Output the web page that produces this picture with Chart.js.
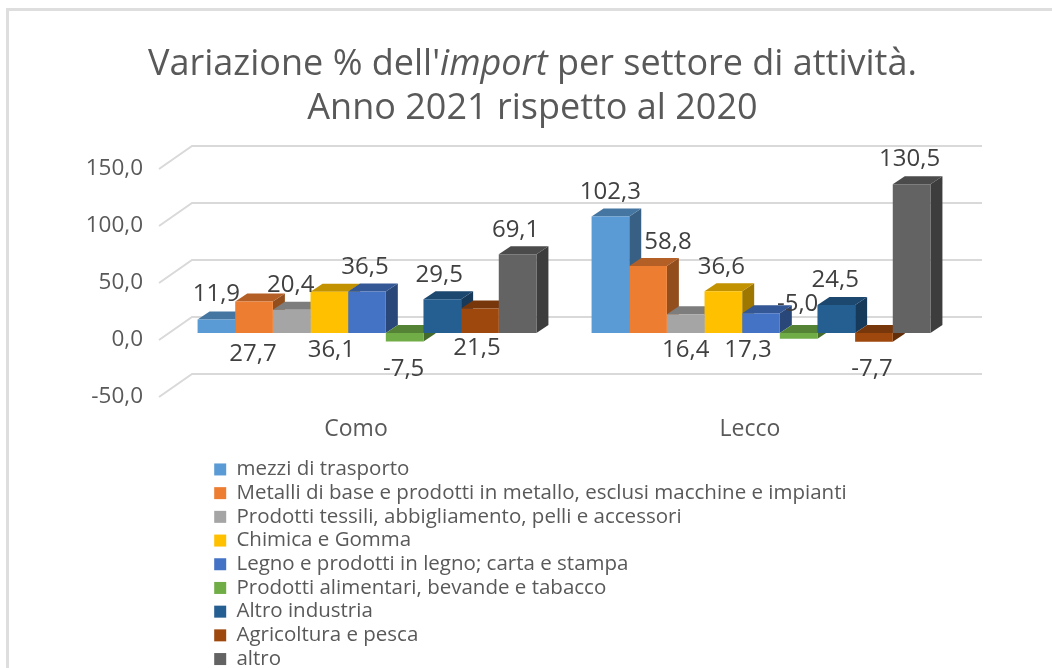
<!DOCTYPE html>
<html lang="it">
<head>
<meta charset="utf-8">
<title>Variazione % dell'import</title>
<style>
html,body{margin:0;padding:0;background:#fff;width:1052px;height:668px;overflow:hidden}
#wrap{position:absolute;left:0;top:0;width:1052px;height:668px;overflow:hidden;filter:blur(0.5px)}
#frame{position:absolute;left:6px;top:8px;width:1100px;height:700px;border:3px solid #dedede;box-sizing:border-box}
#title{position:absolute;left:0;top:40px;width:1065px;text-align:center;font:36px/44px "Open Sans",sans-serif;color:#595959;white-space:nowrap}
canvas{position:absolute;left:0;top:0}
</style>
</head>
<body>
<div id="wrap">
<div id="frame"></div>
<canvas id="c" width="1052" height="668"></canvas>
<div id="title">Variazione % dell'<i>import</i> per settore di attività.<br>Anno 2021 rispetto al 2020</div>
</div>
<script src="https://cdn.jsdelivr.net/npm/chart.js@4"></script>
<script>
const categories = ["Como", "Lecco"];
const mezziTrasporto = [11.9, 102.3];
const metalli = [27.7, 58.8];
const tessili = [20.4, 16.4];
const chimica = [36.1, 36.6];
const legno = [36.5, 17.3];
const alimentari = [-7.5, -5.0];
const altroIndustria = [29.5, 24.5];
const agricoltura = [21.5, -7.7];
const altro = [69.1, 130.5];
const seriesNames = ["mezzi di trasporto","Metalli di base e prodotti in metallo, esclusi macchine e impianti","Prodotti tessili, abbigliamento, pelli e accessori","Chimica e Gomma","Legno e prodotti in legno; carta e stampa","Prodotti alimentari, bevande e tabacco","Altro industria","Agricoltura e pesca","altro"];
const seriesValues = [mezziTrasporto, metalli, tessili, chimica, legno, alimentari, altroIndustria, agricoltura, altro];
const seriesColors = ["#5b9bd5","#ed7d31","#a5a5a5","#ffc000","#4472c4","#70ad47","#255e91","#9e480e","#636363"];

// hand-placed data label offsets from each bar's top edge: [dx, dy] per series, per category
const labelShiftComo = [[0,-25],[-1,53],[-1,-25],[2,58],[-2,-24],[-1,28],[-3,-24],[-3,40],[-2,-24]];
const labelShiftLecco = [[0,-24],[20,-24],[0,36],[-2,-24],[-13,37],[-1,-35],[-1,-25],[-2,27],[-2,-25]];
const labelShifts = [labelShiftComo, labelShiftLecco];

const TEXT = "#595959", FONT = '"Open Sans", sans-serif';
const PLANE = {x: 11, y: -7};   // bars stand behind the axis plane
const BAR = {x: 12, y: -8};     // bar depth
const WALL = {x: 33, y: -23};   // full floor depth

function shade(hex, f){
  const n = parseInt(hex.slice(1), 16);
  return `rgb(${Math.round((n>>16&255)*f)},${Math.round((n>>8&255)*f)},${Math.round((n&255)*f)})`;
}
function face(ctx, pts, fill){
  ctx.beginPath();
  pts.forEach((p,i)=> i ? ctx.lineTo(p[0],p[1]) : ctx.moveTo(p[0],p[1]));
  ctx.closePath();
  ctx.fillStyle = fill;
  ctx.fill();
}

const bars3d = {
  id: "bars3d",
  afterLayout(chart){
    const l = chart.legend, w = l.right - l.left, h = l.bottom - l.top;
    l.left = 211; l.top = 456; l.right = l.left + w; l.bottom = l.top + h;
  },
  beforeDatasetsDraw(chart){
    const {ctx, chartArea:a, scales:{y}} = chart;
    ctx.save();
    ctx.strokeStyle = "#d9d9d9";
    ctx.lineWidth = 2;
    y.ticks.forEach(t=>{
      const p = y.getPixelForValue(t.value);
      ctx.beginPath();
      ctx.moveTo(a.left, p);
      ctx.lineTo(a.left + WALL.x, p + WALL.y);
      ctx.lineTo(a.right + WALL.x + 2, p + WALL.y);
      ctx.stroke();
    });
    // side and top faces, left to right; the library's bars then cover them with their fronts
    ctx.translate(PLANE.x, PLANE.y);
    chart.data.datasets.forEach((ds,i)=>{
      chart.getDatasetMeta(i).data.forEach(b=>{
        const l = b.x - b.width/2, r = b.x + b.width/2;
        const top = Math.min(b.y, b.base), bot = Math.max(b.y, b.base);
        face(ctx, [[r,top],[r+BAR.x,top+BAR.y],[r+BAR.x,bot+BAR.y],[r,bot]], shade(ds.backgroundColor,.62));
        face(ctx, [[l,top],[r,top],[r+BAR.x,top+BAR.y],[l+BAR.x,top+BAR.y]], shade(ds.backgroundColor,.76));
      });
    });
    ctx.restore();
  },
  beforeDatasetDraw(chart){
    chart.ctx.save();
    chart.ctx.translate(PLANE.x, PLANE.y);
  },
  afterDatasetDraw(chart){
    chart.ctx.restore();
  },
  afterDatasetsDraw(chart){
    const ctx = chart.ctx;
    ctx.save();
    ctx.font = '24px ' + FONT;
    ctx.fillStyle = "#404040";
    ctx.textAlign = "center";
    ctx.textBaseline = "middle";
    chart.data.datasets.forEach((ds,i)=>{
      chart.getDatasetMeta(i).data.forEach((b,j)=>{
        const s = labelShifts[j][i];
        ctx.fillText(ds.data[j].toFixed(1).replace(".", ","), b.x + PLANE.x + s[0], b.y + PLANE.y + s[1]);
      });
    });
    ctx.restore();
  }
};

new Chart(document.getElementById("c"), {
  type: "bar",
  plugins: [bars3d],
  data: {
    labels: categories,
    datasets: seriesNames.map((name,i)=>({
      label: name,
      data: seriesValues[i],
      backgroundColor: seriesColors[i],
      borderWidth: 0,
      clip: false,
      categoryPercentage: 0.86,
      barPercentage: 1
    }))
  },
  options: {
    responsive: false,
    animation: false,
    events: [],
    layout: {padding: {left: 0, right: 105, top: 169, bottom: 0}},
    scales: {
      x: {
        grid: {display:false, drawTicks:false},
        border: {display:false},
        ticks: {font:{family:FONT,size:23}, color:TEXT, padding:19},
        afterFit(s){ s.height = 271; }
      },
      y: {
        min: -50, max: 150,
        grid: {display:false, drawTicks:false},
        border: {display:false},
        ticks: {stepSize:50, font:{family:FONT,size:22.5}, color:TEXT, padding:16,
          callback: v => v.toFixed(1).replace(".", ",")},
        afterFit(s){ s.width = 159; }
      }
    },
    plugins: {
      tooltip: {enabled:false},
      title: {display:false},
      legend: {
        position: "chartArea",
        align: "start",
        labels: {boxWidth:12, boxHeight:12, padding:3.2, color:TEXT, font:{family:FONT,size:20.5}}
      }
    }
  }
});
</script>
</body>
</html>
